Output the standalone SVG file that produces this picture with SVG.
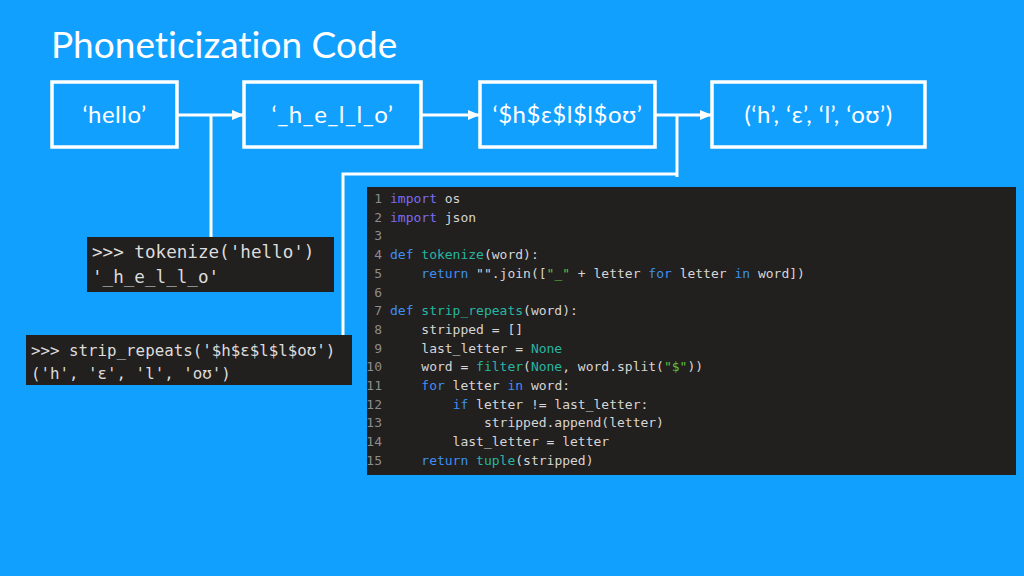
<svg xmlns="http://www.w3.org/2000/svg" width="1024" height="576" viewBox="0 0 1024 576">
<style>
.box{fill:none;stroke:#fff;stroke-width:3.5}
.lbl{fill:#fff;font-family:Lato,"Noto Sans",sans-serif;font-size:24px;letter-spacing:0.5px;text-anchor:middle;font-variant-ligatures:none}
.wire{fill:none;stroke:#fff;stroke-width:3}
.term{fill:#dcdcdc;font-family:"DejaVu Sans Mono",monospace}
.code{fill:#d6d6d6;font-family:"DejaVu Sans Mono",monospace;font-size:13px}
.ln{fill:#8c8c8c;font-family:"DejaVu Sans Mono",monospace;font-size:13px;text-anchor:end}
.kw{fill:#3f8ff0}
.imp{fill:#7b6cf2}
.fn{fill:#26b7a2}
.str{fill:#5fc040}
</style>
<defs>
<marker id="ah" markerWidth="12" markerHeight="10" refX="12" refY="5" orient="auto" markerUnits="userSpaceOnUse">
<path d="M0,0 L12,5 L0,10 Z" fill="#fff"/>
</marker>
<clipPath id="cc"><rect x="367" y="187" width="649" height="288"/></clipPath>
</defs>
<rect width="1024" height="576" fill="#12a0ff"/>
<text x="51" y="58" fill="#fff" font-family="Lato,'Noto Sans',sans-serif" font-size="37" style="font-variant-ligatures:none">Phoneticization Code</text>

<g id="connectors">
<path class="wire" d="M177,115 H244" marker-end="url(#ah)"/>
<path class="wire" d="M211,115 V237"/>
<path class="wire" d="M421,115 H480" marker-end="url(#ah)"/>
<path class="wire" d="M655,115 H712" marker-end="url(#ah)"/>
<path class="wire" d="M677,115 V177"/>
<path class="wire" d="M677,174 H343 V335"/>
</g>

<g id="n-hello">
<rect class="box" x="52" y="82" width="125" height="65"/>
<text class="lbl" x="114.5" y="123">‘hello’</text>
</g>
<g id="n-tokens">
<rect class="box" x="244" y="82" width="177" height="65"/>
<text class="lbl" x="332.5" y="123">‘_h_e_l_l_o’</text>
</g>
<g id="n-phon">
<rect class="box" x="480" y="82" width="175" height="65"/>
<text class="lbl" x="567.5" y="123">‘$h$ɛ$l$l$oʊ’</text>
</g>
<g id="n-tuple">
<rect class="box" x="712" y="82" width="213" height="65"/>
<text class="lbl" x="818.5" y="123">(‘h’, ‘ɛ’, ‘l’, ‘oʊ’)</text>
</g>

<g id="n-tokenize-repl">
<rect x="87" y="237" width="247" height="55" fill="#221f1f"/>
<text class="term" x="92" y="258" font-size="17.6" xml:space="preserve">&gt;&gt;&gt; tokenize('hello')</text>
<text class="term" x="92" y="283" font-size="17.6" xml:space="preserve">'_h_e_l_l_o'</text>
</g>

<g id="n-strip-repl">
<rect x="26" y="335" width="326" height="50" fill="#221f1f"/>
<text class="term" x="31" y="356" font-size="15.8" xml:space="preserve">&gt;&gt;&gt; strip_repeats('$h$ɛ$l$l$oʊ')</text>
<text class="term" x="31" y="379" font-size="15.8" xml:space="preserve">('h', 'ɛ', 'l', 'oʊ')</text>
</g>

<g id="n-code">
<rect x="367" y="187" width="649" height="288" fill="#221f1f"/>
<g clip-path="url(#cc)">
<text class="ln" x="382" y="203">1</text>
<text class="ln" x="382" y="221.7">2</text>
<text class="ln" x="382" y="240.4">3</text>
<text class="ln" x="382" y="259.1">4</text>
<text class="ln" x="382" y="277.8">5</text>
<text class="ln" x="382" y="296.5">6</text>
<text class="ln" x="382" y="315.2">7</text>
<text class="ln" x="382" y="333.9">8</text>
<text class="ln" x="382" y="352.6">9</text>
<text class="ln" x="382" y="371.3">10</text>
<text class="ln" x="382" y="390">11</text>
<text class="ln" x="382" y="408.7">12</text>
<text class="ln" x="382" y="427.4">13</text>
<text class="ln" x="382" y="446.1">14</text>
<text class="ln" x="382" y="464.8">15</text>
<text class="ln" x="382" y="483.5">16</text>
<text class="code" x="390" y="203" xml:space="preserve"><tspan class="imp">import</tspan> os</text>
<text class="code" x="390" y="221.7" xml:space="preserve"><tspan class="imp">import</tspan> json</text>
<text class="code" x="390" y="259.1" xml:space="preserve"><tspan class="kw">def</tspan> <tspan class="fn">tokenize</tspan>(word):</text>
<text class="code" x="390" y="277.8" xml:space="preserve">    <tspan class="kw">return</tspan> "".join([<tspan class="str">"_"</tspan> + letter <tspan class="kw">for</tspan> letter <tspan class="kw">in</tspan> word])</text>
<text class="code" x="390" y="315.2" xml:space="preserve"><tspan class="kw">def</tspan> <tspan class="fn">strip_repeats</tspan>(word):</text>
<text class="code" x="390" y="333.9" xml:space="preserve">    stripped = []</text>
<text class="code" x="390" y="352.6" xml:space="preserve">    last_letter = <tspan class="fn">None</tspan></text>
<text class="code" x="390" y="371.3" xml:space="preserve">    word = <tspan class="fn">filter</tspan>(<tspan class="fn">None</tspan>, word.split(<tspan class="str">"$"</tspan>))</text>
<text class="code" x="390" y="390" xml:space="preserve">    <tspan class="kw">for</tspan> letter <tspan class="kw">in</tspan> word:</text>
<text class="code" x="390" y="408.7" xml:space="preserve">        <tspan class="kw">if</tspan> letter != last_letter:</text>
<text class="code" x="390" y="427.4" xml:space="preserve">            stripped.append(letter)</text>
<text class="code" x="390" y="446.1" xml:space="preserve">        last_letter = letter</text>
<text class="code" x="390" y="464.8" xml:space="preserve">    <tspan class="kw">return</tspan> <tspan class="fn">tuple</tspan>(stripped)</text>
</g>
</g>
</svg>
